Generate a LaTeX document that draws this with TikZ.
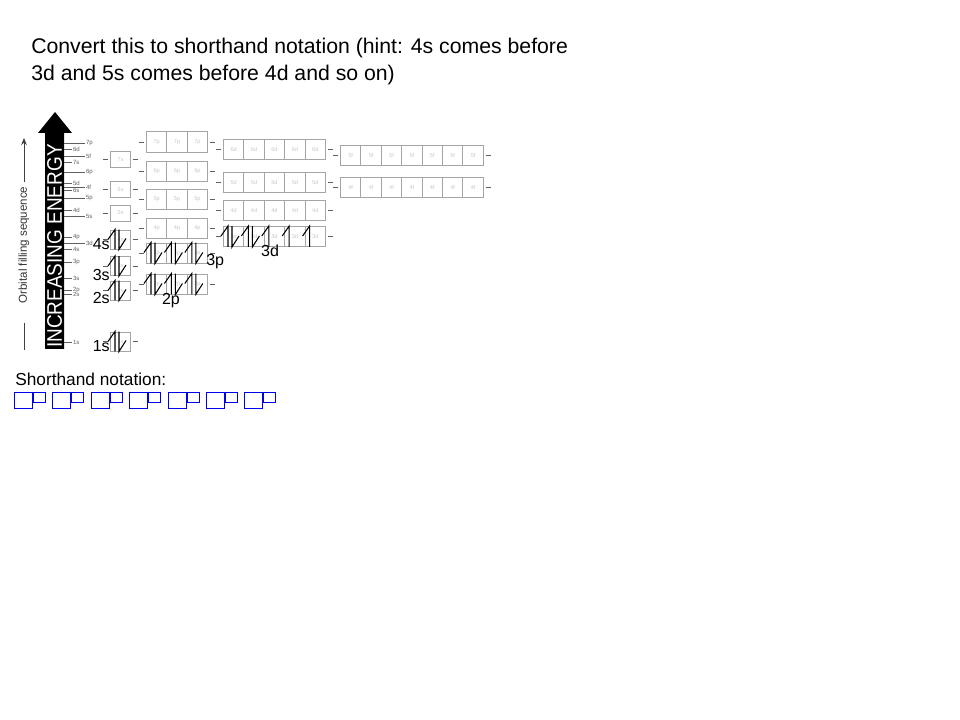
\documentclass[tikz,border=0pt]{standalone}
\usepackage{fontspec}
\setmainfont{Liberation Sans}
\usetikzlibrary{arrows.meta, positioning}
\definecolor{boxgray}{RGB}{165,165,165}
\definecolor{ticgray}{RGB}{95,95,95}
\definecolor{faint}{RGB}{200,200,200}
\definecolor{shblue}{RGB}{0,0,235}

% one row of orbital boxes: name, left x, centre y, count, label, height
\newcommand{\orbrow}[6]{%
  \foreach \k in {1,...,#4}{
    \node[orb, minimum height=#6, anchor=west] (#1-\k) at ({#2+(\k-1)*20.4},#3) {#5};
  }
  \draw[sidedash] ([xshift=-0.05cm]#1-1.west) -- ++(-5,0);
  \draw[sidedash] ([xshift=0.05cm]#1-#4.east) -- ++(5,0);
}
% spin up / spin down electrons in a box
\newcommand{\upe}[1]{\draw[elec] ([shift={(-2,10)}]#1.north west) -- ([xshift=0.125cm]#1.north west) -- ([xshift=0.125cm]#1.south west);}
\newcommand{\dne}[1]{\draw[elec] ([xshift=0.225cm]#1.north west) -- ([xshift=0.225cm]#1.south west) -- ([shift={(16,-11)}]#1.south west);}

\begin{document}
\begin{tikzpicture}[
  x=0.025cm, y=-0.025cm,
  orb/.style={draw=boxgray, line width=0.7pt, minimum width=0.51cm, inner sep=0pt,
              font=\fontsize{4}{4}\selectfont, text=faint},
  elec/.style={black, line width=0.75pt},
  sidedash/.style={ticgray, line width=0.6pt},
  tickline/.style={ticgray, line width=0.5pt},
  tlabel/.style={font=\fontsize{4.3}{5}\selectfont, text=ticgray, inner sep=0.5pt, anchor=west},
  olabel/.style={font=\fontsize{11.4}{13}\selectfont, inner sep=0pt},
  shbox/.style={draw=shblue, line width=0.7pt, inner sep=0pt, anchor=north west},
]
\useasboundingbox (0,0) rectangle (960,720);

%% Question
\node[anchor=north west, inner sep=0pt, align=left,
      font=\fontsize{15.1}{19.2}\selectfont] (title) at (31,38)
  {Convert this to shorthand notation (hint: 4s comes before\\3d and 5s comes before 4d and so on)};

%% Energy arrow
\fill (45,349) -- (45,133) -- (38,133) -- (55,112) -- (72,133) -- (64,133) -- (64,349) -- cycle;
\node[rotate=90, text=white, font=\fontsize{15}{15}\selectfont, inner sep=0pt] (energy) at (54.5,246)
  {\scalebox{0.9}[1]{INCREASING ENERGY}};
\foreach \yy/\nm/\len in {143/7p/21, 149/6d/8, 156/5f/21, 162/7s/8, 172/6p/21, 183/5d/8,
                          190/6s/8, 187/4f/21, 198/5p/21, 210/4d/8, 216/5s/21, 237/4p/8,
                          243/3d/21, 249/4s/8, 262/3p/8, 278/3s/8, 290/2p/8, 294/2s/8, 342/1s/8}
  \draw[tickline] (64,\yy) -- ++(\len,0) node[tlabel] {\nm};

%% Filling sequence arrow
\node[rotate=90, font=\fontsize{8.2}{9}\selectfont, text=black!80, inner sep=0pt] (fillseq) at (24,245)
  {Orbital filling sequence};
\coordinate (seqtop) at (24,138);
\coordinate (seqbot) at (24,350);
\draw[-{Stealth[length=5pt,width=4pt]}, line width=0.6pt, black!75] ([yshift=0.1cm]fillseq.east) -- (seqtop);
\draw[line width=0.6pt, black!75] ([yshift=-0.475cm]fillseq.west) -- (seqbot);

%% Orbital boxes
\orbrow{s7}{110}{159.5}{1}{7s}{0.38cm}
\orbrow{s6}{110}{189.5}{1}{6s}{0.38cm}
\orbrow{s5}{110}{213}{1}{5s}{0.4cm}
\orbrow{s4}{110}{239.5}{1}{4s}{0.475cm}
\orbrow{s3}{110}{266}{1}{3s}{0.475cm}
\orbrow{s2}{110}{290.5}{1}{2s}{0.475cm}
\orbrow{s1}{110}{341.5}{1}{1s}{0.475cm}

\orbrow{p7}{146}{142}{3}{7p}{0.5cm}
\orbrow{p6}{146}{171}{3}{6p}{0.5cm}
\orbrow{p5}{146}{199}{3}{5p}{0.5cm}
\orbrow{p4}{146}{228}{3}{4p}{0.5cm}
\orbrow{p3}{146}{253}{3}{3p}{0.5cm}
\orbrow{p2}{146}{284}{3}{2p}{0.5cm}

\orbrow{d6}{223}{149}{5}{6d}{0.5cm}
\orbrow{d5}{223}{182}{5}{5d}{0.5cm}
\orbrow{d4}{223}{210}{5}{4d}{0.5cm}
\orbrow{d3}{223}{236.5}{5}{3d}{0.5cm}

\orbrow{f5}{340}{155.5}{7}{5f}{0.5cm}
\orbrow{f4}{340}{187}{7}{4f}{0.5cm}

%% Electrons
\foreach \b in {s1-1, s2-1, s3-1, s4-1, p2-1, p2-2, p2-3, p3-1, p3-2, p3-3, d3-1, d3-2}{
  \upe{\b}
  \dne{\b}
}
\foreach \b in {d3-3, d3-4, d3-5}{
  \upe{\b}
}

%% Sublevel labels
\node[olabel, anchor=base east] (l4s) at (110,250) {4s};
\node[olabel, anchor=base east] (l3s) at (110,281) {3s};
\node[olabel, anchor=base east] (l2s) at (110,304) {2s};
\node[olabel, anchor=base east] (l1s) at (110,352) {1s};
\node[olabel, anchor=base west] (l3p) at (206,266) {3p};
\node[olabel, anchor=base] (l2p) at (171,305) {2p};
\node[olabel, anchor=base] (l3d) at (270,257) {3d};

%% Answer
\node[anchor=base west, inner sep=0pt, font=\fontsize{12.3}{14}\selectfont] (shlabel) at (15,386)
  {Shorthand notation:};
\foreach \i in {0,...,6}{
  \node[shbox, minimum width=0.45cm, minimum height=0.4cm] (sh\i) at ({14+\i*38.4},392) {};
  \node[shbox, minimum width=0.3cm, minimum height=0.25cm] (sup\i) at (sh\i.north east) {};
}

\end{tikzpicture}
\end{document}
